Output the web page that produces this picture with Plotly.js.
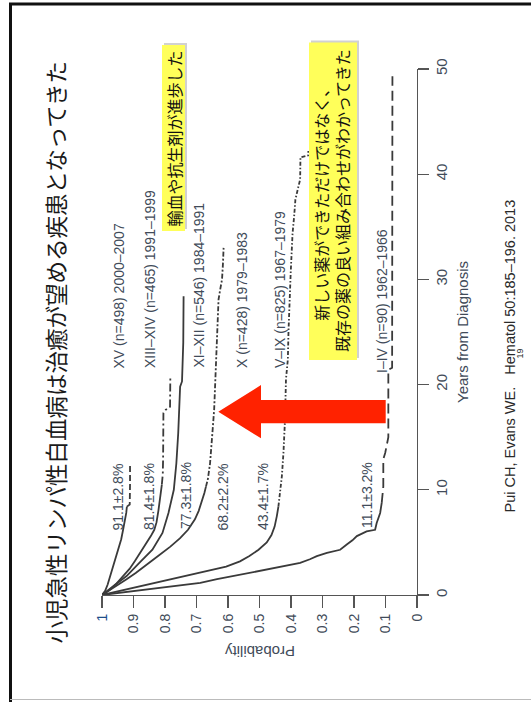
<!DOCTYPE html>
<html>
<head>
<meta charset="utf-8">
<script src="https://cdn.plot.ly/plotly-3.0.1.min.js"></script>
<style>
html,body{margin:0;padding:0;background:#fff;overflow:hidden}
#chart{width:531px;height:702px}
</style>
</head>
<body>
<div id="chart"></div>
<script>
// ---------------- DATA ----------------
const eraNames = [
  "XV (n=498) 2000–2007",
  "XIII–XIV (n=465) 1991–1999",
  "XI–XII (n=546) 1984–1991",
  "X (n=428) 1979–1983",
  "V–IX (n=825) 1967–1979",
  "I–IV (n=90) 1962–1966"
];
const survivalLabels = ["91.1±2.8%","81.4±1.8%","77.3±1.8%","68.2±2.2%","43.4±1.7%","11.1±3.2%"];

const yearsXV = [0,0.4,1.0,1.8,2.6,3.4,4.4,5.3,6.2,7.0,7.8,8.4,8.6,10.5,12.5];
const probXV  = [1,0.99,0.982,0.974,0.965,0.956,0.948,0.939,0.933,0.927,0.923,0.921,0.912,0.911,0.911];

const yearsXIII = [0,0.5,1.0,1.7,2.5,3.2,4.3,5.0,5.6,6.2,6.9,8.0,9.0,10.5,11.5,13.0,15.0,17.3,17.6,17.9,20.8];
const probXIII  = [1,0.975,0.957,0.935,0.912,0.896,0.872,0.857,0.845,0.834,0.827,0.821,0.816,0.81,0.807,0.806,0.805,0.805,0.798,0.784,0.783];

const yearsXI = [0,0.4,0.8,1.8,3.1,4.3,5.9,7.8,10.0,12.5,15.4,18.0,19.8,20.3,21.7,24.0,28.4];
const probXI  = [1,0.982,0.964,0.922,0.88,0.84,0.808,0.789,0.772,0.764,0.758,0.755,0.752,0.746,0.744,0.742,0.741];

const yearsX = [0,0.4,0.8,1.5,2.1,2.7,3.7,4.6,5.4,6.2,7.2,8.0,8.75,9.7,10.3,11.0,12.5,14.1,16.0,17.6,19.8,22.0,24.3,26.0,28.1,29.0,30.0,31.5,33.0];
const probX  = [1,0.978,0.957,0.922,0.893,0.865,0.822,0.783,0.752,0.727,0.705,0.693,0.684,0.675,0.67,0.664,0.657,0.652,0.648,0.644,0.641,0.638,0.635,0.633,0.630,0.625,0.619,0.616,0.614];

const yearsV = [0,0.5,1.0,1.5,2.1,2.7,3.2,3.7,4.3,5.0,5.7,6.5,7.5,8.4,10.0,11.3,13.5,16.7,20.5,22.4,25.0,28.1,30.6,32.5,34.4,36.0,37.6,38.5,39.5,41.6,41.8,42.2];
const probV  = [1,0.926,0.852,0.778,0.69,0.606,0.562,0.532,0.503,0.477,0.462,0.452,0.445,0.44,0.434,0.429,0.424,0.419,0.416,0.41,0.408,0.405,0.401,0.398,0.395,0.39,0.386,0.379,0.371,0.37,0.345,0.345];

const yearsI = [0,0.3,0.6,0.9,1.15,1.5,1.8,2.1,2.4,2.7,3.05,3.4,3.7,4.0,4.3,4.8,5.2,5.6,6.05,6.2,6.85,7.8,8.75,10.3,12.9,13.5,15.0,21.4,21.6,49.3];
const probI  = [1,0.92,0.84,0.76,0.688,0.635,0.583,0.53,0.477,0.424,0.371,0.34,0.318,0.286,0.244,0.223,0.205,0.191,0.16,0.133,0.128,0.117,0.112,0.107,0.107,0.101,0.091,0.091,0.079,0.078];

const probTickVals = [1,0.9,0.8,0.7,0.6,0.5,0.4,0.3,0.2,0.1,0];
const probTickText = ["1","0.9","0.8","0.7","0.6","0.5","0.4","0.3","0.2","0.1","0"];
const yearTickVals = [0,10,20,30,40,50];

const curveYears = [yearsXV, yearsXIII, yearsXI, yearsX, yearsV, yearsI];
const curveProbs = [probXV, probXIII, probXI, probX, probV, probI];

// -------------- STYLE --------------
const dashStartYear = [8.4, 10.5, null, 10.3, 8.4, 8.75];
const dashPattern = ["6px,3px", "8px,3px,2px,3px", null, "5px,2px,2px,2px", "4px,2px,1.5px,2px", "10px,5px"];
const lineColor = "#3a3a3a";
const textColor = "#414b59";
const latin = "Liberation Sans, Arial, sans-serif";
const cjk = "Noto Sans CJK JP, sans-serif";

// plot area in pixels
const L = 102, R = 417, T = 69, B = 595;
const W = R - L, H = B - T;
function P(px, py) { return {x: (px - L) / W, y: (B - py) / H}; }

// -------------- TRACES --------------
const traces = [];
curveYears.forEach((yrs, i) => {
  const pr = curveProbs[i];
  const ds = dashStartYear[i];
  let k = yrs.length - 1;
  if (ds !== null) {
    k = 0;
    for (let j = 0; j < yrs.length; j++) if (yrs[j] <= ds) k = j;
  }
  traces.push({
    type: "scatter", mode: "lines",
    x: pr.slice(0, k + 1), y: yrs.slice(0, k + 1),
    line: {color: lineColor, width: 1.8, shape: "linear"},
    hoverinfo: "skip", showlegend: false
  });
  if (ds !== null) {
    traces.push({
      type: "scatter", mode: "lines",
      x: pr.slice(k), y: yrs.slice(k),
      line: {color: lineColor, width: 1.8, shape: "linear", dash: dashPattern[i]},
      hoverinfo: "skip", showlegend: false
    });
  }
});

// -------------- ANNOTATIONS --------------
const ann = [];
function addText(px, py, text, opts) {
  const p = P(px, py);
  ann.push(Object.assign({
    xref: "paper", yref: "paper", x: p.x, y: p.y,
    text: text, showarrow: false, textangle: -90,
    xanchor: "center", yanchor: "middle",
    font: {family: latin, size: 14, color: textColor}
  }, opts || {}));
}

// title
addText(54, 352.5, "小児急性リンパ性白血病は治癒が望める疾患となってきた",
  {font: {family: cjk, size: 22.5, color: "#1a1a1a"}});

// era labels (bottom aligned)
const eraX = [118, 150, 198, 242, 279.5, 382];
const eraBottom = [371, 370, 370, 370, 370, 375];
eraNames.forEach((t, i) => addText(eraX[i], eraBottom[i], t, {yanchor: "bottom"}));

// survival labels
const survX = [117.5, 149, 186, 222.5, 263, 367];
const survY = [497, 497, 496, 497, 497, 495];
survivalLabels.forEach((t, i) => addText(survX[i], survY[i], t));

// axis titles
addText(260, 652, "Probability", {textangle: 180, font: {family: latin, size: 15, color: textColor}});
addText(462, 332, "Years from Diagnosis", {font: {family: latin, size: 15, color: textColor}});

// citation
addText(509.5, 356, "Pui CH, Evans WE.   Hematol 50:185–196. 2013", {font: {family: latin, size: 14.5, color: "#2a2a2a"}});
addText(519.5, 354, "19", {font: {family: latin, size: 9, color: "#2a2a2a"}});

// yellow box texts
addText(173.5, 139, "輸血や抗生剤が進歩した", {font: {family: cjk, size: 16, color: "#111"}});
addText(331, 201, "新しい薬ができただけではなく、<br>既存の薬の良い組み合わせがわかってきた",
  {font: {family: cjk, size: 16, color: "#111"}, align: "center"});

// -------------- SHAPES --------------
const shapes = [];
function rectPx(x0, y0, x1, y1, fill) {
  const a = P(x0, y0), b = P(x1, y1);
  shapes.push({type: "rect", xref: "paper", yref: "paper", x0: a.x, y0: a.y, x1: b.x, y1: b.y,
    fillcolor: fill, line: {width: 0}, layer: "above"});
}
function linePx(x0, y0, x1, y1, color, width) {
  const a = P(x0, y0), b = P(x1, y1);
  shapes.push({type: "line", xref: "paper", yref: "paper", x0: a.x, y0: a.y, x1: b.x, y1: b.y,
    line: {color: color, width: width}, layer: "above"});
}
// slide frame
linePx(9, 4, 531, 4, "#111", 3);
linePx(10.5, 3, 10.5, 702, "#111", 3);
linePx(10, 699.5, 531, 699.5, "#bbbbbb", 1);

// yellow boxes with shadow
rectPx(164, 43, 187, 229, "rgba(0,0,0,0.18)");
rectPx(162, 45, 185, 231, "#ffff5a");
rectPx(311, 40.5, 359, 358, "rgba(0,0,0,0.18)");
rectPx(309, 42.5, 357, 360, "#ffff5a");

// red arrow
const arrowPts = [[218.3, 411.7], [261, 385], [261, 400], [385.7, 400], [385.7, 423.3], [261, 423.3], [261, 438.3]];
const path = "M " + arrowPts.map(q => { const p = P(q[0], q[1]); return p.x.toFixed(5) + "," + p.y.toFixed(5); }).join(" L ") + " Z";
shapes.push({type: "path", xref: "paper", yref: "paper", path: path, fillcolor: "#ff2200", line: {width: 0}, layer: "above"});

// -------------- LAYOUT --------------
const axisFont = {family: latin, size: 14, color: textColor};
const layout = {
  width: 531, height: 702,
  margin: {l: L, r: 531 - R, t: T, b: 702 - B, pad: 0},
  paper_bgcolor: "#ffffff", plot_bgcolor: "rgba(0,0,0,0)",
  showlegend: false,
  xaxis: {
    range: [1, 0], tickvals: probTickVals,
    ticktext: probTickText.map((t, i) => i === 0 ? '<span style="color:#1d4e89">' + t + '</span>' : t),
    tickangle: -90, ticks: "outside", ticklen: 12, tickwidth: 1.2, tickcolor: "#555",
    showline: true, linecolor: "#555", linewidth: 1.2,
    showgrid: false, zeroline: false, tickfont: axisFont, fixedrange: true
  },
  yaxis: {
    range: [0, 50], side: "right", tickvals: yearTickVals,
    tickangle: -90, ticks: "outside", ticklen: 11, tickwidth: 1.2, tickcolor: "#555",
    showline: true, linecolor: "#555", linewidth: 1.2,
    showgrid: false, zeroline: false, tickfont: {family: latin, size: 15, color: textColor}, fixedrange: true
  },
  annotations: ann,
  shapes: shapes
};

Plotly.newPlot("chart", traces, layout, {staticPlot: true, displayModeBar: false});
</script>
</body>
</html>
